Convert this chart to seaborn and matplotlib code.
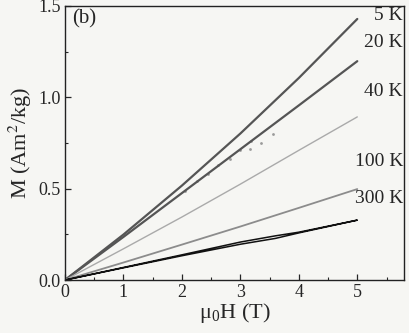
import numpy as np
import pandas as pd
import matplotlib
matplotlib.use("Agg")
import matplotlib.pyplot as plt
import seaborn as sns
from matplotlib.ticker import MultipleLocator, FormatStrFormatter

# Data
H = [0, 1, 2, 3, 4, 5]
M_5K = [0, 0.249, 0.517, 0.802, 1.106, 1.429]
M_20K = [0, 0.236, 0.476, 0.716, 0.956, 1.198]
M_40K = [0, 0.171, 0.345, 0.525, 0.710, 0.893]
M_100K = [0, 0.096, 0.194, 0.293, 0.395, 0.498]
H_300K = [0, 1, 2, 3, 3.6, 4, 5, 4, 3.6, 3, 2, 1, 0]
M_300K = [0, 0.067, 0.133, 0.196, 0.228, 0.258, 0.328, 0.262, 0.242, 0.208, 0.138, 0.069, 0]

# faint stray points near the 20 K curve
H_dots = [2.05, 2.25, 2.45, 2.62, 2.82, 2.99, 3.16, 3.19, 3.36, 3.56]
M_dots = [0.49, 0.54, 0.58, 0.63, 0.66, 0.71, 0.715, 0.76, 0.75, 0.80]

labels = ["5 K", "20 K", "40 K", "100 K", "300 K"]
label_y = [1.45, 1.30, 1.03, 0.65, 0.445]

sns.set_style("ticks")
plt.rcParams['font.family'] = ['Liberation Serif', 'DejaVu Serif']
plt.rcParams['mathtext.fontset'] = 'stix'

bg = '#f6f6f3'
fig = plt.figure(figsize=(4.10, 3.33), dpi=100, facecolor=bg)
ax = fig.add_axes([0.1585, 0.159, 0.827, 0.823])
ax.set_facecolor(bg)

series = [
    (H, M_5K, '#555555', 1.6),
    (H, M_20K, '#555555', 1.6),
    (H, M_40K, '#aaaaaa', 1.0),
    (H, M_100K, '#8c8c8c', 1.3),
    (H_300K, M_300K, '#111111', 1.1),
]
for xs, ys, c, lw in series:
    df = pd.DataFrame({'H': xs, 'M': ys})
    sns.lineplot(data=df, x='H', y='M', sort=False, estimator=None,
                 color=c, lw=lw, ax=ax)

sns.scatterplot(x=H_dots, y=M_dots, color='#9a9a9a', s=4, linewidth=0, ax=ax)

for lab, y in zip(labels, label_y):
    ax.text(5.78, y, lab, ha='right', va='center', fontsize=14)
ax.text(0.13, 1.43, "(b)", ha='left', va='center', fontsize=15)

ax.set_xlim(0, 5.8)
ax.set_ylim(0, 1.5)
ax.xaxis.set_major_locator(MultipleLocator(1))
ax.xaxis.set_minor_locator(MultipleLocator(0.5))
ax.yaxis.set_major_locator(MultipleLocator(0.5))
ax.yaxis.set_minor_locator(MultipleLocator(0.25))
ax.yaxis.set_major_formatter(FormatStrFormatter('%.1f'))
ax.tick_params(which='major', direction='in', length=4, width=0.9, labelsize=13, pad=3)
ax.tick_params(which='minor', direction='in', length=2, width=0.8)
for s in ax.spines.values():
    s.set_visible(True)
    s.set_color('#222222')
    s.set_linewidth(1.0)

ax.set_xlabel(r'$\mathregular{\mu_0}$H (T)', fontsize=16, labelpad=0)
ax.set_ylabel(r'M (Am$^2$/kg)', fontsize=16, labelpad=3)

fig.savefig("out.png", dpi=100, facecolor=bg)
